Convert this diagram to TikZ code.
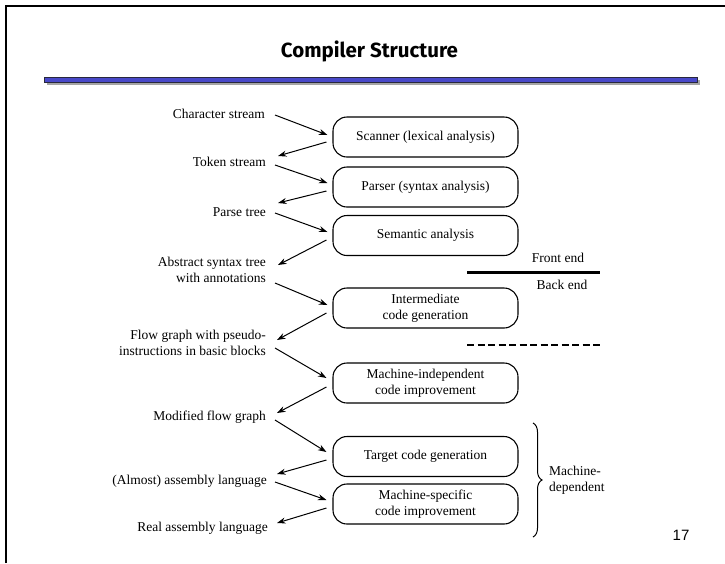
\documentclass[tikz,border=0pt]{standalone}
\usepackage{fontspec}
\setmainfont{Liberation Serif}
\newfontfamily\titlefont{Fira Sans}
\newfontfamily\numfont{Liberation Sans}
\usetikzlibrary{arrows.meta,decorations.pathreplacing}

\definecolor{barblue}{RGB}{72,72,200}
\definecolor{baredge}{RGB}{40,40,60}
\definecolor{shadowgray}{RGB}{165,165,165}

\tikzset{
  phase/.style={draw, line width=1.1pt, rounded corners=14pt,
    minimum width=185pt, minimum height=40pt, align=center,
    font=\fontsize{13.5}{16}\selectfont, inner sep=0pt},
  repr/.style={anchor=east, align=right, inner sep=0pt,
    font=\fontsize{13.5}{16}\selectfont},
  plain/.style={inner sep=0pt, font=\fontsize{13.5}{16}\selectfont},
  flow/.style={line width=1pt, -{Stealth[length=8.5pt,width=6pt]}},
}

\begin{document}
\begin{tikzpicture}[x=1pt, y=-1pt]
\useasboundingbox (0,0) rectangle (725,563);

% slide frame
\draw[line width=2pt] (6,563) -- (6,6) -- (725,6);

% title and rule
\node[anchor=base, inner sep=0pt] (title) at (369.5,57)
  {\titlefont\bfseries\fontsize{20.5}{23}\selectfont Compiler Structure};
\fill[shadowgray] (47,80) rectangle (700,84.5);
\draw[baredge, fill=barblue, line width=0.9pt] (44,77) rectangle (697,82);

% compiler phases
\node[phase] (scan)  at (425.5,137)   {Scanner (lexical analysis)};
\node[phase] (parse) at (425.5,187)   {Parser (syntax analysis)};
\node[phase] (sem)   at (425.5,235.5) {Semantic analysis};
\node[phase] (inter) at (425.5,308)   {Intermediate\\code generation};
\node[phase] (mind)  at (425.5,383)   {Machine-independent\\code improvement};
\node[phase] (tgt)   at (425.5,456.5) {Target code generation};
\node[phase] (mspec) at (425.5,504)   {Machine-specific\\code improvement};

% program representations
\node[repr] (cs)   at (265,114) {Character stream};
\node[repr] (ts)   at (266,162) {Token stream};
\node[repr] (pt)   at (266,212) {Parse tree};
\node[repr] (ast)  at (266,270) {Abstract syntax tree\\with annotations};
\node[repr] (fg)   at (266,343) {Flow graph with pseudo-\\instructions in basic blocks};
\node[repr] (mfg)  at (266,417) {Modified flow graph};
\node[repr] (asm)  at (267,481) {(Almost) assembly language};
\node[repr] (real) at (268,528) {Real assembly language};

% data flow between phases
\draw[flow] ([xshift=10pt,yshift=-1pt]cs.east)  -- ([xshift=-5pt,yshift=2pt]scan.west);
\draw[flow] ([xshift=-6pt,yshift=-5pt]scan.west) -- ([xshift=12pt,yshift=6pt]ts.east);
\draw[flow] ([xshift=9pt,yshift=-3pt]ts.east)   -- ([xshift=-5pt,yshift=4pt]parse.west);
\draw[flow] ([xshift=-6pt,yshift=-4pt]parse.west) -- ([xshift=12pt,yshift=9pt]pt.east);
\draw[flow] ([xshift=9pt,yshift=-1pt]pt.east)   -- ([xshift=-5pt,yshift=3.5pt]sem.west);
\draw[flow] ([xshift=-6pt,yshift=-4.5pt]sem.west) -- ([xshift=12pt,yshift=5pt]ast.east);
\draw[flow] ([xshift=9pt,yshift=-13pt]ast.east) -- ([xshift=-5pt,yshift=3pt]inter.west);
\draw[flow] ([xshift=-6pt,yshift=-5pt]inter.west) -- ([xshift=11pt,yshift=3pt]fg.east);
\draw[flow] ([xshift=9pt,yshift=-5pt]fg.east)   -- ([xshift=-6pt,yshift=5pt]mind.west);
\draw[flow] ([xshift=-6pt,yshift=-4pt]mind.west) -- ([xshift=11pt,yshift=4pt]mfg.east);
\draw[flow] ([xshift=9pt,yshift=-3pt]mfg.east)  -- ([xshift=-6pt,yshift=4.5pt]tgt.west);
\draw[flow] ([xshift=-6pt,yshift=-3.5pt]tgt.west) -- ([xshift=10pt,yshift=7pt]asm.east);
\draw[flow] ([xshift=8pt,yshift=-1pt]asm.east)  -- ([xshift=-6pt,yshift=4pt]mspec.west);
\draw[flow] ([xshift=-6pt,yshift=-4pt]mspec.west) -- ([xshift=9pt,yshift=5pt]real.east);

% front end / back end split
\coordinate (fsl) at (467,272);
\coordinate (fsr) at (600,272);
\draw[line width=3pt] (fsl) -- (fsr);
\node[plain] (front) at (558,258) {Front end};
\node[plain] (back)  at (562,285) {Back end};
\coordinate (dsl) at (467,345);
\coordinate (dsr) at (600,345);
\draw[line width=1.5pt, dash pattern=on 7pt off 3.5pt] (dsl) -- (dsr);

% machine-dependent phases
\coordinate (brtop) at (533,423);
\coordinate (brbot) at (533,537);
\draw[line width=1pt, decorate, decoration={brace, amplitude=9pt}] (brtop) -- (brbot);
\node[plain, anchor=west, align=left] (mdep) at (549,480) {Machine-\\dependent};

% page number
\node[inner sep=0pt] (pagenum) at (681,535) {\numfont\fontsize{15}{18}\selectfont 17};
\end{tikzpicture}
\end{document}
